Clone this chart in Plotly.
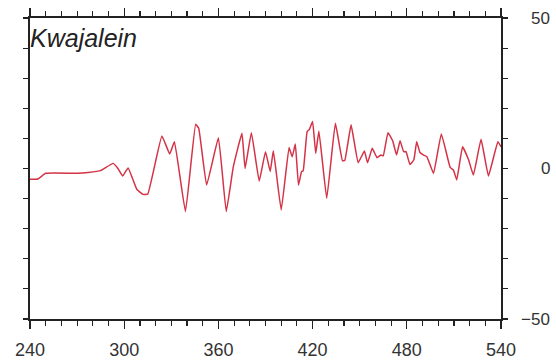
import plotly.graph_objects as go

# Data
x_vals = [240, 245, 250, 270, 277, 285, 293, 296, 299, 302.5, 308, 312, 315, 324, 329, 332, 339,
          345.5, 347.5, 352.5, 360, 365, 369.5, 375, 377, 381, 386, 390, 393, 395, 400, 405, 407,
          409, 411, 413, 414, 416.5, 418, 420, 422, 424, 429, 434.5, 439, 440.5, 444.5, 449, 453,
          455, 458, 461, 463.5, 465, 468, 471, 473.5, 475.7, 478, 479.5, 482, 484.5, 486.3, 488.4,
          490.5, 492.8, 497, 502, 507.6, 509.7, 511.8, 515.5, 519.3, 522.4, 527.3, 532, 538, 540]
y_vals = [-3.6, -3.5, -1.6, -1.6, -1.3, -0.7, 1.7, 0.0, -2.5, 0.2, -6.9, -8.6, -8.5, 10.8, 4.8, 8.9, -14.3,
          14.7, 13.3, -5.5, 10.2, -14.3, 0.6, 11.7, 0.0, 11.9, -4.2, 5.6, -1.0, 5.9, -13.8, 7.0, 3.9,
          8.1, -5.5, -1.0, -0.8, 12.2, 13.0, 15.6, 5.0, 12.5, -9.9, 15.0, 2.6, 2.7, 14.5, 1.9, 5.8,
          1.9, 6.7, 3.6, 4.5, 4.2, 11.9, 9.2, 4.5, 9.2, 5.6, 5.6, 1.3, 2.9, 8.9, 5.3,
          4.5, 3.9, -1.6, 11.5, 0.4, -0.5, -3.8, 7.2, 3.0, -2.2, 9.7, -2.5, 8.9, 7.2]

x_range = [240, 540]
y_range = [-50, 50]
y_label_vals = [50, 0, -50]
y_label_text = ["50", "0", "\u221250"]
station = "Kwajalein"

font_family = "Liberation Sans, Arial, sans-serif"
axis_color = "#222222"

fig = go.Figure()
fig.add_trace(go.Scatter(x=x_vals, y=y_vals, mode="lines",
                         line=dict(color="rgb(212,50,70)", width=1.5, shape="spline", smoothing=0.3),
                         showlegend=False, hoverinfo="skip"))

fig.update_layout(
    width=556, height=362,
    margin=dict(l=30, r=55, t=18, b=43),
    paper_bgcolor="white", plot_bgcolor="white",
    font=dict(family=font_family, size=18, color="#333333"),
    xaxis=dict(range=x_range, tick0=240, dtick=60, ticks="outside", ticklen=8, tickwidth=1.3,
               tickcolor=axis_color, showline=True, linecolor=axis_color, linewidth=2,
               mirror="ticks", showgrid=False, zeroline=False, ticklabelstandoff=5, automargin=False,
               minor=dict(dtick=10, ticks="outside", ticklen=5, tickwidth=1.2, tickcolor=axis_color, showgrid=False),
               tickfont=dict(size=18, color="#333333")),
    yaxis=dict(range=y_range, side="right", tick0=0, dtick=10, ticks="outside", ticklen=5, tickwidth=1.2,
               tickcolor=axis_color, showline=True, linecolor=axis_color, linewidth=2, automargin=False,
               mirror="ticks", showgrid=False, zeroline=False, showticklabels=False),
)

for v, t in zip(y_label_vals, y_label_text):
    fig.add_annotation(x=1.109, xref="paper", y=v, yref="y", text=t, showarrow=False,
                       xanchor="right", yanchor="middle",
                       font=dict(size=17, color="#333333", family=font_family))

fig.add_annotation(x=0, xref="paper", y=1, yref="paper", text="<i>" + station + "</i>",
                   showarrow=False, xanchor="left", yanchor="top", xshift=-2, yshift=-4,
                   font=dict(size=25, color="#222222", family=font_family))

fig.write_html("out.html", config={"displayModeBar": False, "staticPlot": True},
               post_script="document.body.style.margin='0';document.body.style.overflow='hidden';")
